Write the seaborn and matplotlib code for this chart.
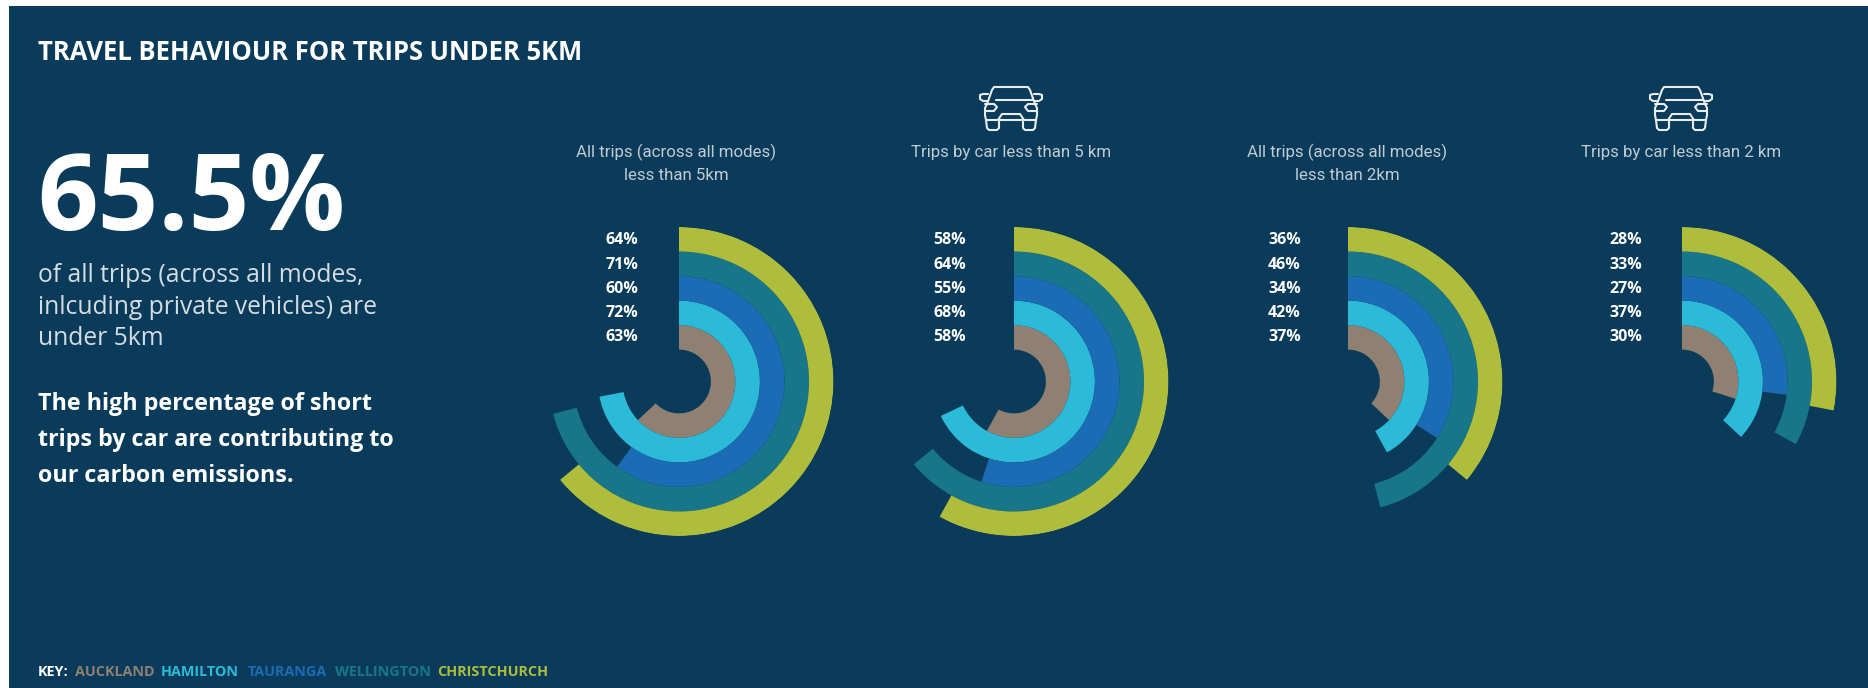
import matplotlib
matplotlib.use("Agg")
import matplotlib.pyplot as plt
from matplotlib.lines import Line2D
from matplotlib.patches import Rectangle
import numpy as np
import seaborn as sns

W, H = 1868, 688
BG = "#0A3B5A"

cities = ["Auckland", "Hamilton", "Tauranga", "Wellington", "Christchurch"]
ring_colors = ["#8F8072", "#2BBBD9", "#1C6BB5", "#17768A", "#AEBD3C"]

all_under_5km = [63, 72, 60, 71, 64]
car_under_5km = [58, 68, 55, 64, 58]
all_under_2km = [37, 42, 34, 46, 36]
car_under_2km = [30, 37, 27, 33, 28]

panel_values = [all_under_5km, car_under_5km, all_under_2km, car_under_2km]
panel_titles = [
    ["All trips (across all modes)", "less than 5km"],
    ["Trips by car less than 5 km"],
    ["All trips (across all modes)", "less than 2km"],
    ["Trips by car less than 2 km"],
]
panel_has_car = [False, True, False, True]
panel_cx = [679, 1014, 1348, 1682]
panel_title_cx = [676, 1011, 1347, 1681]
label_right = [638, 966, 1301, 1642]

sns.set_theme(style="white", rc={"axes.facecolor": "none", "figure.facecolor": "white"})
plt.rcParams["font.family"] = ["Open Sans", "DejaVu Sans"]

fig = plt.figure(figsize=(W / 100, H / 100), dpi=100)
palette = sns.color_palette(ring_colors)


def fx(px):
    return px / W


def fy(py):
    return 1 - py / H


# navy page area, inset from the white edge of the sheet
fig.add_artist(Rectangle((fx(9), 0), 1 - fx(9), fy(6), transform=fig.transFigure,
                         fc=BG, ec="none", zorder=-5))

CY, R = 381.5, 154.5
HOLE = 1.3


def draw_rings(cx, values):
    ax = fig.add_axes([fx(cx - R), fy(CY + R), 2 * R / W, 2 * R / H], projection="polar")
    ax.set_theta_zero_location("N")
    ax.set_theta_direction(-1)
    ax.set_ylim(0, HOLE + len(values))
    ax.axis("off")
    for i, (value, color) in enumerate(zip(values, palette)):
        sweep = np.deg2rad(value * 3.6)
        ax.bar(sweep / 2, 1, width=sweep, bottom=HOLE + i, color=color, linewidth=0)


def car_icon(cx, top, color="#E8EEF0"):
    lw = 1.5

    def line(xs, ys):
        fig.add_artist(Line2D([fx(cx + x) for x in xs], [fy(top + y) for y in ys],
                              transform=fig.transFigure, color=color, lw=lw,
                              solid_capstyle="round", solid_joinstyle="round"))

    # body and roof
    line([-25, -26, -26, -24, -19, -17, 17, 19, 24, 26, 26, 25, -25],
         [33, 28, 21, 17, 3, 0, 0, 3, 17, 21, 28, 33, 33])
    # windscreen base
    line([-15, 22], [13, 13])
    # wheels
    line([-25, -24, -22, -14, -12, -12], [33, 41, 43, 43, 41, 33])
    line([12, 12, 14, 22, 24, 25], [33, 41, 43, 43, 41, 33])
    # grille
    line([-13, -9, 9, 13], [33, 27, 27, 33])
    # headlamps
    line([-26, -17, -14, -17, -26], [17, 17, 20, 24, 24])
    line([26, 17, 14, 17, 26], [17, 17, 20, 24, 24])
    # mirrors
    line([-23, -28, -31, -31, -28, -24], [7, 7, 8, 12, 14, 14])
    line([23, 28, 31, 31, 28, 24], [7, 7, 8, 12, 14, 14])


def put(px, py, text, **kw):
    fig.text(fx(px), fy(py), text, **kw)


for values, title, has_car, cx, tcx, lx in zip(panel_values, panel_titles, panel_has_car,
                                               panel_cx, panel_title_cx, label_right):
    draw_rings(cx, values)
    for j, part in enumerate(title):
        put(tcx, 152 + j * 23, part, ha="center", va="center", color="#BFCCD3",
            fontsize=12.2, family=["Roboto", "DejaVu Sans"])
    if has_car:
        car_icon(tcx, 87)
    for i, value in enumerate(reversed(values)):
        put(lx, 240.5 + i * 24.2, f"{value}%", ha="right", va="center", color="white",
            fontsize=11.5, fontweight="bold")

# headline column
put(38, 53, "TRAVEL BEHAVIOUR FOR TRIPS UNDER 5KM", ha="left", va="center", color="white",
    fontsize=18.45, fontweight="bold")
put(37, 202, "65.5%", ha="left", va="center", color="white", fontsize=76.5, fontweight="bold")
put(38, 307, "of all trips (across all modes,\ninlcuding private vehicles) are\nunder 5km",
    ha="left", va="center", color="#D5DDE2", fontsize=17.7, linespacing=1.33)
put(38, 440, "The high percentage of short\ntrips by car are contributing to\nour carbon emissions.",
    ha="left", va="center", color="white", fontsize=16.75, fontweight="bold", linespacing=1.68)

# colour key along the foot of the page
key_x = [38, 75, 161, 248, 335, 437]
key_text = ["KEY:"] + [c.upper() for c in cities]
key_col = ["white"] + ring_colors
for x, text, col in zip(key_x, key_text, key_col):
    put(x, 671.5, text, ha="left", va="center", color=col, fontsize=10.4, fontweight="bold")

fig.savefig("out.png", dpi=100)
